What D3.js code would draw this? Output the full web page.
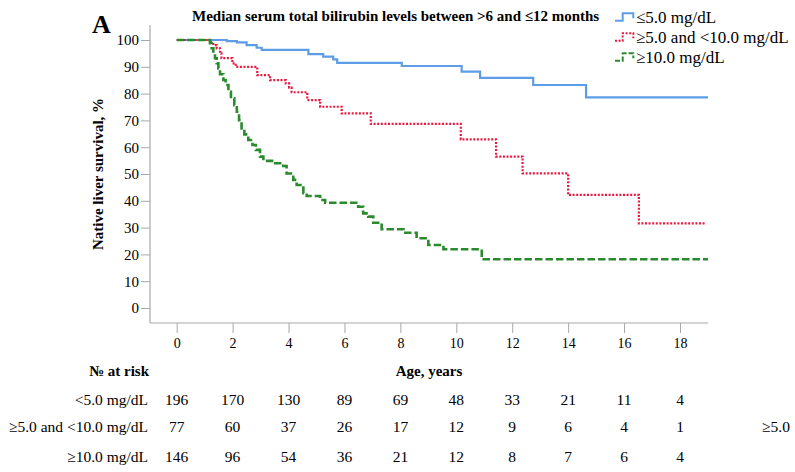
<!DOCTYPE html>
<html>
<head>
<meta charset="utf-8">
<script src="https://cdn.jsdelivr.net/npm/d3@7"></script>
<style>
  body { margin: 0; background: #fff; }
  svg { display: block; }
  text { font-family: "Liberation Serif", "Times New Roman", serif; fill: #000; }
</style>
</head>
<body>
<svg id="chart" width="795" height="472"></svg>
<script>
// Axis ticks
const xTicks = [0, 2, 4, 6, 8, 10, 12, 14, 16, 18];
const yTicks = [0, 10, 20, 30, 40, 50, 60, 70, 80, 90, 100];

// Group names
const legendLabels = ["≤5.0 mg/dL", "≥5.0 and <10.0 mg/dL", "≥10.0 mg/dL"];
const riskLabels = ["<5.0 mg/dL", "≥5.0 and <10.0 mg/dL", "≥10.0 mg/dL"];
const sideLabel = "≥5.0";

// Kaplan–Meier steps: time of each step (years) and survival (%) from that time on
const lowTimes = [0, 1.79, 2.15, 2.50, 2.86, 3.04, 4.71, 5.24, 5.60, 5.74, 8.05, 10.19, 10.85, 12.75, 14.64];
const lowSurv  = [100, 99.6, 99.1, 98.1, 97.1, 96.3, 94.7, 93.8, 92.8, 91.5, 90.3, 88.2, 85.9, 83.2, 78.6];
const lowEnd = 19.0;

const midTimes = [0, 1.19, 1.31, 1.43, 1.55, 1.60, 1.99, 2.11, 2.88, 3.34, 3.90, 4.02, 4.11, 4.67, 5.13, 5.90, 6.94, 10.16, 11.42, 12.37, 14.0, 16.53];
const midSurv  = [100, 99.1, 98.1, 96.9, 95.0, 93.2, 91.3, 90.0, 86.9, 85.0, 83.8, 82.2, 80.5, 77.6, 75.1, 72.6, 68.7, 62.9, 56.5, 50.2, 42.2, 31.6];
const midEnd = 18.9;

const highTimes = [0, 1.19, 1.25, 1.31, 1.37, 1.43, 1.49, 1.55, 1.67, 1.75, 1.85, 1.94, 2.06, 2.15, 2.23, 2.32, 2.42, 2.56, 2.71, 2.83, 2.98, 3.10, 3.52, 3.81, 3.93, 4.17, 4.29, 4.53, 4.65, 5.13, 5.31, 6.49, 6.67, 6.85, 7.03, 7.33, 8.11, 8.58, 9.00, 9.54, 10.91];
const highSurv  = [100, 98.8, 96.9, 95.0, 93.2, 91.3, 89.4, 87.2, 85.1, 83.2, 80.7, 78.2, 75.7, 73.2, 70.1, 67.0, 64.8, 62.7, 60.8, 59.0, 56.5, 54.9, 54.0, 53.0, 50.2, 47.8, 45.9, 42.8, 41.8, 40.3, 39.3, 37.8, 35.3, 34.1, 31.8, 29.4, 28.1, 26.0, 23.5, 21.9, 18.2];
const highEnd = 19.0;

// Number at risk
const riskTimes = [0, 2, 4, 6, 8, 10, 12, 14, 16, 18];
const riskLow  = [196, 170, 130, 89, 69, 48, 33, 21, 11, 4];
const riskMid  = [77, 60, 37, 26, 17, 12, 9, 6, 4, 1];
const riskHigh = [146, 96, 54, 36, 21, 12, 8, 7, 6, 4];

const series = [
  { times: lowTimes,  surv: lowSurv,  end: lowEnd,  color: "#5d9de8", dash: null,    width: 2.2 },
  { times: midTimes,  surv: midSurv,  end: midEnd,  color: "#e8183f", dash: "2,1.6", width: 2.2 },
  { times: highTimes, surv: highSurv, end: highEnd, color: "#2b8a2e", dash: "7.5,3", width: 2.6 }
];

const svg = d3.select("#chart");
const x = d3.scaleLinear().domain([0, 18]).range([176.7, 680]);
const y = d3.scaleLinear().domain([0, 100]).range([308, 40]);
const axisColor = "#a8a8a8";
const xLeft = 150, xRight = 708, yBottom = 323, yTop = 25;

// Panel letter and title
svg.append("text").attr("x", 92).attr("y", 33)
  .style("font-size", "26px").style("font-weight", "bold").text("A");
svg.append("text").attr("x", 192).attr("y", 21)
  .style("font-size", "15px").style("font-weight", "bold")
  .text("Median serum total bilirubin levels between >6 and ≤12 months");

// Axis lines
svg.append("line").attr("x1", xLeft).attr("x2", xLeft).attr("y1", yTop).attr("y2", yBottom)
  .attr("stroke", axisColor).attr("stroke-width", 1.2);
svg.append("line").attr("x1", xLeft).attr("x2", xRight).attr("y1", yBottom).attr("y2", yBottom)
  .attr("stroke", axisColor).attr("stroke-width", 1.2);

// Y axis
const gy = svg.append("g").attr("transform", `translate(${xLeft},0)`)
  .call(d3.axisLeft(y).tickValues(yTicks).tickSize(9).tickPadding(2));
gy.select(".domain").remove();
gy.selectAll(".tick line").attr("stroke", axisColor);
gy.selectAll(".tick text").style("font-size", "15px").style("font-family", "'Liberation Serif', serif").attr("fill", "#000");

// X axis
const gx = svg.append("g").attr("transform", `translate(0,${yBottom})`)
  .call(d3.axisBottom(x).tickValues(xTicks).tickSize(10).tickPadding(5));
gx.select(".domain").remove();
gx.selectAll(".tick line").attr("stroke", axisColor);
gx.selectAll(".tick text").style("font-size", "14px").style("font-family", "'Liberation Serif', serif").attr("fill", "#000");

// Axis titles
svg.append("text").attr("transform", "translate(103,174) rotate(-90)")
  .attr("text-anchor", "middle").style("font-size", "15px").style("font-weight", "bold")
  .text("Native liver survival, %");
svg.append("text").attr("x", 429).attr("y", 376).attr("text-anchor", "middle")
  .style("font-size", "15px").style("font-weight", "bold").text("Age, years");

// Survival curves
const line = d3.line().x(d => x(d[0])).y(d => y(d[1])).curve(d3.curveStepAfter);
series.forEach(s => {
  const pts = s.times.map((t, i) => [t, s.surv[i]]);
  pts.push([s.end, s.surv[s.surv.length - 1]]);
  svg.append("path").datum(pts).attr("d", line)
    .attr("fill", "none").attr("stroke", s.color).attr("stroke-width", s.width)
    .attr("stroke-dasharray", s.dash);
});

// Legend
legendLabels.forEach((lab, i) => {
  const by = 20.7 + i * 20, ty = 13.3 + i * 20;
  const s = series[i];
  svg.append("path")
    .attr("d", `M615,${by}H622.7V${ty}H633.3V${ty + 5}`)
    .attr("fill", "none").attr("stroke", s.color).attr("stroke-width", 2)
    .attr("stroke-dasharray", s.dash ? (i === 1 ? "2,1.6" : "5,2") : null);
  svg.append("text").attr("x", 636).attr("y", 22.5 + i * 20)
    .style("font-size", "17px").text(lab);
});

// Number-at-risk table
svg.append("text").attr("x", 149).attr("y", 376).attr("text-anchor", "end")
  .style("font-size", "15px").style("font-weight", "bold").text("№ at risk");
const riskRows = [riskLow, riskMid, riskHigh];
const rowY = [405, 432, 462];
riskRows.forEach((row, r) => {
  svg.append("text").attr("x", 148).attr("y", rowY[r]).attr("text-anchor", "end")
    .style("font-size", "15.5px").text(riskLabels[r]);
  svg.selectAll(null).data(row).enter().append("text")
    .attr("x", (d, i) => x(riskTimes[i])).attr("y", rowY[r])
    .attr("text-anchor", "middle").style("font-size", "15.5px").text(d => d);
});
svg.append("text").attr("x", 762).attr("y", rowY[1])
  .style("font-size", "15.5px").text(sideLabel);
</script>
</body>
</html>
